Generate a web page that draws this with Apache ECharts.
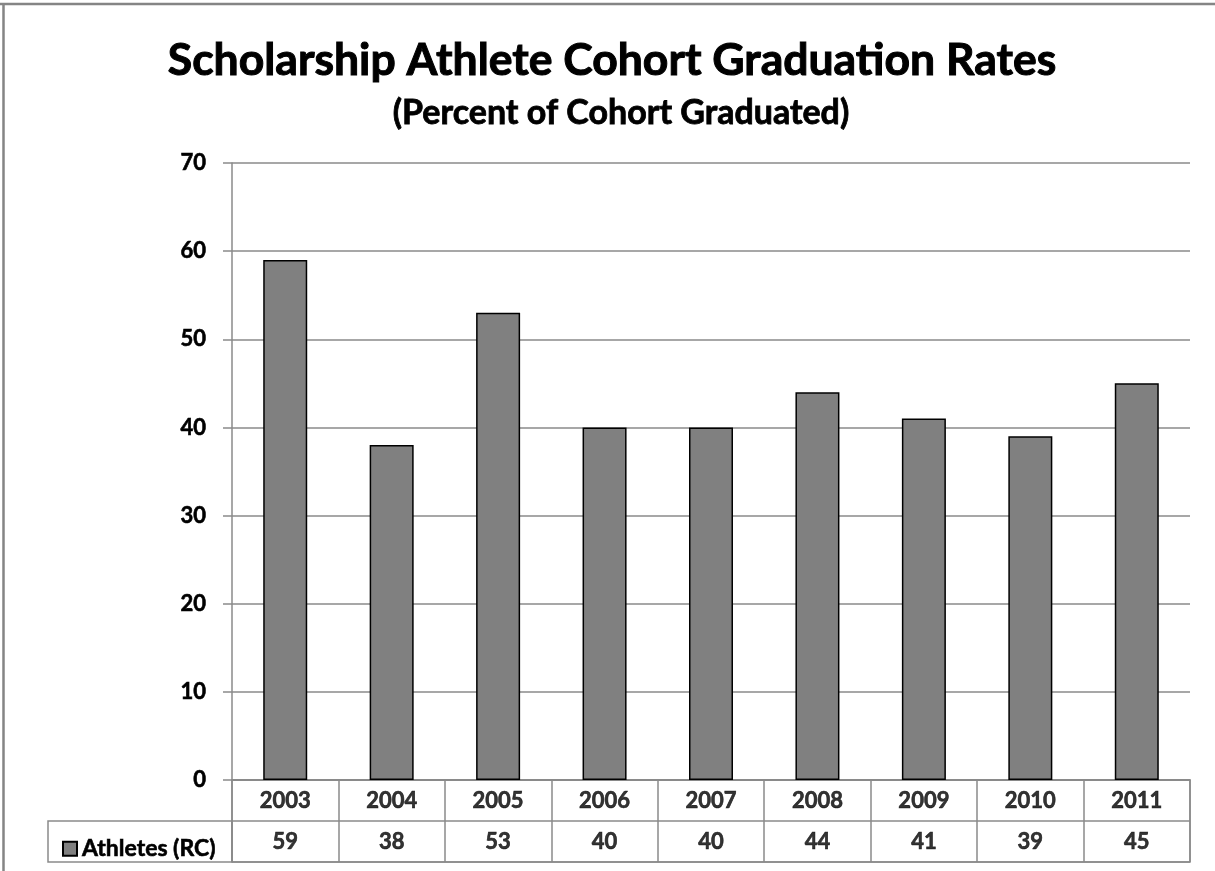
<!DOCTYPE html>
<html>
<head>
<meta charset="utf-8">
<script src="https://cdn.jsdelivr.net/npm/echarts@6/dist/echarts.min.js"></script>
<style>html,body{margin:0;padding:0;background:#fff}#c{width:1215px;height:871px}</style>
</head>
<body>
<div id="c"></div>
<script>
const years = ['2003','2004','2005','2006','2007','2008','2009','2010','2011'];
const athletes = [59, 38, 53, 40, 40, 44, 41, 39, 45];
const yTicks = {min: 0, max: 70, interval: 10};
const seriesName = 'Athletes (RC)';
const titleText = 'Scholarship Athlete Cohort Graduation Rates';
const subtitleText = '(Percent of Cohort Graduated)';

const FONT = 'Lato, "Open Sans", sans-serif';
const GRID_C = '#8a8a8a';
const SMALL = 22;
const boldText = (size, bw) => ({fontFamily: FONT, fontWeight: 'bold', fontSize: size, color: '#000',
  textBorderColor: '#000', textBorderWidth: bw});

const tableData = [];
years.forEach((y, i) => {
  tableData.push({value: [y, 'yr'], label: {formatter: y}});
  tableData.push({value: [y, 'val'], label: {formatter: String(athletes[i])}});
});

const chart = echarts.init(document.getElementById('c'), null, {renderer: 'canvas'});
chart.setOption({
  animation: false,
  backgroundColor: '#fff',
  title: [
    {text: titleText, left: 607, top: 33, textAlign: 'center', textStyle: boldText(44.5, 1)},
    {text: subtitleText, left: 616, top: 91, textAlign: 'center', textStyle: boldText(34, 0.8)}
  ],
  legend: {
    data: [seriesName], left: 57, top: 832, icon: 'rect', itemWidth: 14, itemHeight: 14, itemGap: 8,
    textStyle: boldText(23, 0.6)
  },
  grid: [
    {left: 232, right: 25, top: 163, bottom: 91, containLabel: false},
    {left: 232, right: 25, top: 780, height: 82, show: true, borderColor: GRID_C, borderWidth: 1.5}
  ],
  xAxis: [
    {type: 'category', gridIndex: 0, data: years,
     axisLine: {show: true, lineStyle: {color: GRID_C, width: 1.5}},
     axisTick: {show: false}, axisLabel: {show: false}},
    {type: 'category', gridIndex: 1, data: years,
     axisLine: {show: false}, axisTick: {show: false}, axisLabel: {show: false},
     splitLine: {show: true, lineStyle: {color: GRID_C, width: 1.5}}}
  ],
  yAxis: [
    {type: 'value', gridIndex: 0, min: yTicks.min, max: yTicks.max, interval: yTicks.interval,
     axisLine: {show: true, lineStyle: {color: GRID_C, width: 1.5}},
     axisTick: {show: true, length: 9, lineStyle: {color: GRID_C, width: 1.5}},
     axisLabel: Object.assign(boldText(SMALL, 0.6), {margin: 26}),
     splitLine: {show: true, lineStyle: {color: GRID_C, width: 1.5}}},
    {type: 'category', gridIndex: 1, data: ['yr', 'val'], inverse: true,
     axisLine: {show: false}, axisTick: {show: false}, axisLabel: {show: false},
     splitLine: {show: true, lineStyle: {color: GRID_C, width: 1.5}}}
  ],
  series: [
    {name: seriesName, type: 'bar', xAxisIndex: 0, yAxisIndex: 0, data: athletes, barWidth: 44,
     itemStyle: {color: '#808080', borderColor: '#000', borderWidth: 1.5}},
    {type: 'scatter', xAxisIndex: 1, yAxisIndex: 1, symbolSize: 0, data: tableData,
     label: Object.assign({show: true, position: 'inside'}, boldText(SMALL, 0.6)),
     silent: true}
  ],
  graphic: [
    {type: 'rect', shape: {x: 48, y: 821, width: 184, height: 41}, style: {fill: 'none', stroke: GRID_C, lineWidth: 1.5}, z: -1},
    {type: 'line', shape: {x1: 0, y1: 4, x2: 1215, y2: 4}, style: {stroke: '#858585', lineWidth: 2.5}},
    {type: 'line', shape: {x1: 3.5, y1: 4, x2: 3.5, y2: 871}, style: {stroke: '#858585', lineWidth: 2.5}}
  ]
});
</script>
</body>
</html>
